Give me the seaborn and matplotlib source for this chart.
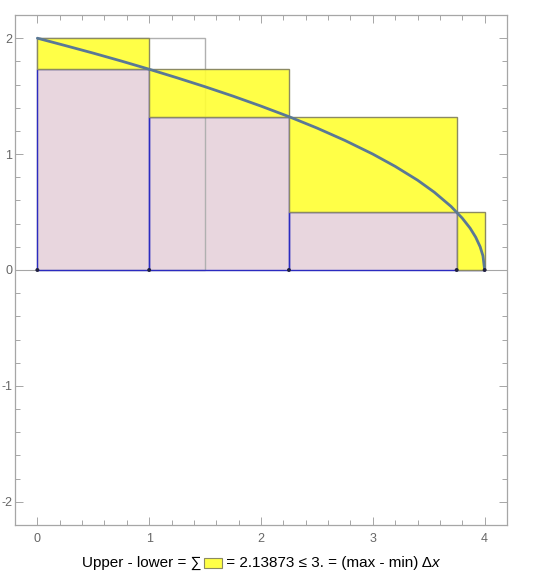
import matplotlib
matplotlib.use('Agg')
import matplotlib.pyplot as plt
from matplotlib.patches import Rectangle
from matplotlib.ticker import MultipleLocator
import seaborn as sns
import numpy as np
import pandas as pd

# partition of [0, 4] and f(x) = sqrt(4 - x) at the nodes
x_nodes = [0.0, 1.0, 2.25, 3.75, 4.0]
f_nodes = [2.0, 1.732, 1.323, 0.5, 0.0]

# widest strip (max dx) drawn as an outline
strip_left = 0.0
strip_width = 1.5
strip_height = 2.0

# curve points
curve_x = [0.0, 0.25, 0.5, 0.75, 1.0, 1.25, 1.5, 1.75, 2.0, 2.25, 2.5, 2.75, 3.0,
           3.2, 3.4, 3.55, 3.7, 3.8, 3.87, 3.92, 3.96, 3.985, 4.0]
curve_y = [2.0, 1.936, 1.871, 1.803, 1.732, 1.658, 1.581, 1.5, 1.414, 1.323, 1.225,
           1.118, 1.0, 0.894, 0.775, 0.671, 0.548, 0.447, 0.361, 0.283, 0.2, 0.122, 0.0]

caption_left = "Upper - lower = \u2211"
caption_right = " = 2.13873 \u2264 3. = (max - min) \u0394"
caption_x = "x"

YELLOW = (1.0, 1.0, 0.2, 0.9)
PINK = '#E8D6DE'
OLIVE = '#8C8A62'
BLUE = '#2B2BC0'
CURVE = '#5A7896'
FRAME = '#A6A6A6'

sns.set_theme(style='white')
plt.rcParams['font.family'] = ['Liberation Sans', 'DejaVu Sans']
plt.rcParams['axes.unicode_minus'] = False

fig = plt.figure(figsize=(5.4, 5.73), dpi=100)
ax = fig.add_axes([15 / 540, 48 / 573, 492 / 540, 510 / 573])

widths = np.diff(x_nodes)
lefts = np.array(x_nodes[:-1])
upper = np.array(f_nodes[:-1])   # decreasing f: sup at left end
lower = np.array(f_nodes[1:])    # inf at right end

# lower sum rectangles (fill, then blue outline above the strip)
ax.bar(lefts, lower, width=widths, align='edge', color=PINK, linewidth=0, zorder=2)
ax.bar([strip_left], [strip_height], width=strip_width, align='edge', fill=False,
       edgecolor='#B0B0B0', linewidth=1.0, zorder=3)
ax.bar(lefts, lower, width=widths, align='edge', fill=False, edgecolor=BLUE,
       linewidth=1.0, zorder=3.5)
# upper - lower difference rectangles
ax.bar(lefts, upper - lower, width=widths, bottom=lower, align='edge', facecolor=YELLOW,
       edgecolor=OLIVE, linewidth=1.0, zorder=4)

ax.axhline(0, color=FRAME, lw=0.8, zorder=1)

sns.lineplot(x=curve_x, y=curve_y, ax=ax, color=CURVE, lw=2.0, zorder=5, sort=False)
sns.scatterplot(x=x_nodes, y=[0] * len(x_nodes), ax=ax, color='#202040', s=8,
                edgecolor='none', zorder=6)

ax.set_xlim(-0.2, 4.2)
ax.set_ylim(-2.2, 2.2)
ax.xaxis.set_major_locator(MultipleLocator(1))
ax.xaxis.set_minor_locator(MultipleLocator(0.2))
ax.yaxis.set_major_locator(MultipleLocator(1))
ax.yaxis.set_minor_locator(MultipleLocator(0.2))
ax.tick_params(which='both', direction='in', top=True, right=True, bottom=True, left=True,
               color=FRAME, labelcolor='#666666', labelsize=9, width=0.7)
ax.tick_params(which='major', length=6)
ax.tick_params(which='minor', length=3.5)
ax.tick_params(axis='x', pad=6)
ax.tick_params(axis='y', pad=2)
for s in ax.spines.values():
    s.set_color(FRAME)
    s.set_linewidth(0.9)

# caption: text, yellow swatch, text
fig.canvas.draw()
r = fig.canvas.get_renderer()
y_cap = 1 - 563 / 573
kw = dict(fontsize=11, color='black', va='center')
t1 = fig.text(0, y_cap, caption_left, **kw)
t2 = fig.text(0, y_cap, caption_right, **kw)
t3 = fig.text(0, y_cap, caption_x, style='italic', **kw)
w1 = t1.get_window_extent(r).width
w2 = t2.get_window_extent(r).width
w3 = t3.get_window_extent(r).width
box_w, box_h, gap = 18, 10, 2
total = w1 + gap + box_w + w2 + w3
x0 = 261 - total / 2
t1.set_x(x0 / 540)
fig.add_artist(Rectangle(((x0 + w1 + gap) / 540, y_cap - box_h / 2 / 573), box_w / 540,
                         box_h / 573, transform=fig.transFigure, facecolor=YELLOW,
                         edgecolor=OLIVE, lw=0.8))
t2.set_x((x0 + w1 + gap + box_w) / 540)
t3.set_x((x0 + w1 + gap + box_w + w2) / 540)

fig.savefig('out.png', dpi=100, facecolor='white')
